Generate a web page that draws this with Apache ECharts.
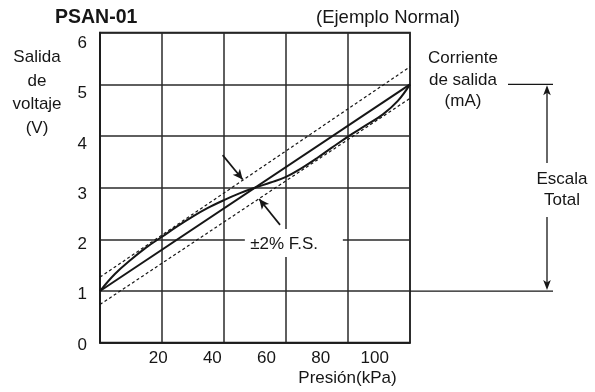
<!DOCTYPE html>
<html><head><meta charset="utf-8">
<script src="https://cdn.jsdelivr.net/npm/echarts@6/dist/echarts.min.js"></script>
<style>html,body{margin:0;padding:0;background:#fff}#c{width:595px;height:392px}</style>
</head><body><div id="c"></div>
<script>
// ---- data (pressure kPa, output V) ----
const yTickValues = [0, 1, 2, 3, 4, 5, 6];
const xTickValues = [20, 40, 60, 80, 100];
const pressureRange = [-1.5, 113];
const idealLine = [[-1.5, 1.0], [113, 5.0]];
const upperLimit = [[-1.5, 1.27], [113, 5.34]];
const lowerLimit = [[-1.5, 0.74], [113, 4.73]];
const actualCurve = [
  [-1.5, 1.0], [4, 1.33], [10, 1.61], [15.5, 1.84], [21.4, 2.05], [27, 2.25],
  [33, 2.45], [38, 2.6], [44.3, 2.76], [50, 2.89], [55.7, 3.0], [61.5, 3.1],
  [67.2, 3.21], [73, 3.38], [78.6, 3.57], [84, 3.77], [90.1, 3.99], [96.5, 4.2],
  [103, 4.42], [108.5, 4.68], [113, 5.0]
];
const arrowA = [[43.8, 3.63], [51.2, 3.16]];
const arrowB = [[65.0, 2.28], [57.3, 2.78]];

const FONT = '"Liberation Sans", Arial, sans-serif';
const INK = '#161616';
const chart = echarts.init(document.getElementById('c'), null, {renderer: 'canvas'});

const option = {
  animation: false,
  backgroundColor: '#fff',
  title: [{
    text: 'PSAN-01', left: 50, top: 3,
    textStyle: {fontFamily: FONT, fontSize: 19.5, fontWeight: 'bold', color: INK}
  }, {
    text: '(Ejemplo Normal)', left: 311, top: 3,
    textStyle: {fontFamily: FONT, fontSize: 18.5, fontWeight: 'normal', color: INK}
  }],
  grid: [
    {left: 100, right: 185, top: 32.7, bottom: 49.3, show: true, borderColor: '#1a1a1a', borderWidth: 1.7},
    {left: 100, right: 185, top: 43.3, bottom: 47}
  ],
  xAxis: [
    {type: 'value', gridIndex: 0, min: pressureRange[0], max: pressureRange[1], position: 'bottom',
     axisLine: {show: true, onZero: false, lineStyle: {color: '#1a1a1a', width: 1.7}}, axisTick: {show: false},
     splitLine: {show: false},
     axisLabel: {customValues: xTickValues, fontFamily: FONT, fontSize: 17, color: INK, margin: 7}},
    {type: 'value', gridIndex: 0, min: 0, max: 5, interval: 1, position: 'top',
     axisLine: {show: false}, axisTick: {show: false}, axisLabel: {show: false},
     splitLine: {show: true, lineStyle: {color: '#2a2a2a', width: 1.5}}},
    {type: 'value', gridIndex: 1, show: false, min: 0, max: 1}
  ],
  yAxis: [
    {type: 'value', gridIndex: 0, min: 0, max: 6, interval: 1,
     axisLine: {show: true, onZero: false, lineStyle: {color: '#1a1a1a', width: 1.7}}, axisTick: {show: false},
     axisLabel: {show: false},
     splitLine: {show: true, lineStyle: {color: '#2a2a2a', width: 1.5}}},
    {type: 'value', gridIndex: 1, min: 0, max: 6, interval: 1,
     axisLine: {show: false}, axisTick: {show: false}, splitLine: {show: false},
     axisLabel: {fontFamily: FONT, fontSize: 17, color: INK, margin: 13}}
  ],
  series: [
    {type: 'line', xAxisIndex: 0, yAxisIndex: 0, data: upperLimit, showSymbol: false, z: 3,
     lineStyle: {color: INK, width: 1.2, type: [3, 2.5]}},
    {type: 'line', xAxisIndex: 0, yAxisIndex: 0, data: lowerLimit, showSymbol: false, z: 3,
     lineStyle: {color: INK, width: 1.2, type: [3, 2.5]}},
    {type: 'line', xAxisIndex: 0, yAxisIndex: 0, data: idealLine, showSymbol: false, z: 4,
     lineStyle: {color: INK, width: 2},
     markLine: {silent: true, symbol: ['none', 'arrow'], symbolSize: [7, 10], label: {show: false},
       lineStyle: {color: INK, width: 1.7, type: 'solid'},
       data: [
         [{coord: arrowA[0]}, {coord: arrowA[1]}],
         [{coord: arrowB[0]}, {coord: arrowB[1]}]
       ]}},
    {type: 'line', xAxisIndex: 0, yAxisIndex: 0, data: actualCurve, showSymbol: false, z: 4,
     smooth: 0.4, lineStyle: {color: INK, width: 2}},
    {type: 'line', xAxisIndex: 2, yAxisIndex: 1, data: [], showSymbol: false}
  ]
};
chart.setOption(option);

const p = (x, y) => chart.convertToPixel({xAxisIndex: 0, yAxisIndex: 0}, [x, y]);
const r5 = p(pressureRange[1], 5), r1 = p(pressureRange[1], 1);
const boxA = p(52, 2.2), boxB = p(88.2, 1.66), lbl = p(66.5, 1.9);
const ax = 547;
const txt = (x, y, text, size, lh, extra) => Object.assign({
  type: 'text', x: x, y: y, z: 20,
  style: {text: text, fontFamily: FONT, fontSize: size, fill: INK, align: 'center', verticalAlign: 'middle', lineHeight: lh}
}, extra || {});
const seg = (x1, y1, x2, y2, w) => ({type: 'line', z: 20, shape: {x1, y1, x2, y2}, style: {stroke: INK, lineWidth: w || 1.3}});
chart.setOption({
  graphic: [
    {type: 'rect', z: 15, shape: {x: boxA[0], y: boxA[1], width: boxB[0] - boxA[0], height: boxB[1] - boxA[1]}, style: {fill: '#fff'}},
    txt(lbl[0], lbl[1], '±2% F.S.', 17, 20),
    txt(37, 92.7, 'Salida\nde\nvoltaje\n(V)', 17, 23.7),
    txt(347.5, 378.3, 'Presión(kPa)', 17, 20),
    txt(463, 80, 'Corriente\nde salida\n(mA)', 17, 21.7),
    txt(562, 189.7, 'Escala\nTotal', 17, 20.7),
    seg(508, r5[1], 553, r5[1]),
    seg(r1[0], r1[1], 553, r1[1]),
    seg(ax, r5[1] + 6, ax, 163),
    seg(ax, 217, ax, r1[1] - 6),
    {type: 'polygon', z: 21, shape: {points: [[ax, r5[1] + 1], [ax - 3.8, r5[1] + 11], [ax, r5[1] + 8.5], [ax + 3.8, r5[1] + 11]]}, style: {fill: INK}},
    {type: 'polygon', z: 21, shape: {points: [[ax, r1[1] - 1], [ax - 3.8, r1[1] - 11], [ax, r1[1] - 8.5], [ax + 3.8, r1[1] - 11]]}, style: {fill: INK}}
  ]
});
</script>
</body></html>
